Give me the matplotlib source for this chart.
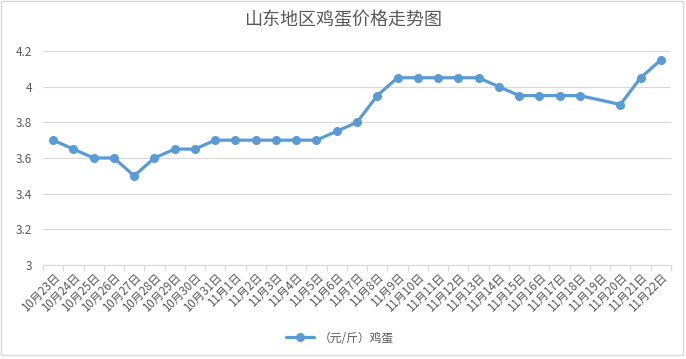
import numpy as np
import matplotlib.pyplot as plt
from matplotlib.patches import Rectangle

plt.rcParams['font.family'] = ['Noto Sans CJK SC', 'DejaVu Sans']

# dates on the x axis (11月19日 has no value)
dates = [f"10月{d}日" for d in range(23, 32)] + [f"11月{d}日" for d in range(1, 23)]
prices = [3.7, 3.65, 3.6, 3.6, 3.5, 3.6, 3.65, 3.65, 3.7,
          3.7, 3.7, 3.7, 3.7, 3.7, 3.75, 3.8, 3.95, 4.05, 4.05, 4.05,
          4.05, 4.05, 4.0, 3.95, 3.95, 3.95, 3.95, np.nan, 3.9, 4.05, 4.15]
series_name = "（元/斤）鸡蛋"
title = "山东地区鸡蛋价格走势图"

text_color = "#595959"
line_color = "#5B9BD5"
grid_color = "#D9D9D9"

fig = plt.figure(figsize=(6.86, 3.59), dpi=100)
ax = fig.add_axes([43 / 686, 1 - 265 / 359, 628 / 686, 214 / 359])

x = np.arange(len(dates))
y = np.array(prices)
ok = ~np.isnan(y)
ax.plot(x[ok], y[ok], color=line_color, lw=2.3, marker='o', ms=5.5,
        label=series_name, solid_capstyle='round')

ax.set_xlim(-0.5, len(dates) - 0.5)
ax.set_ylim(3, 4.2)
ax.set_yticks([3, 3.2, 3.4, 3.6, 3.8, 4, 4.2])
ax.set_yticklabels(["3", "3.2", "3.4", "3.6", "3.8", "4", "4.2"])
ax.yaxis.grid(True, color=grid_color, lw=0.8)
ax.set_axisbelow(True)

ax.set_xticks(np.arange(len(dates) + 1) - 0.5, minor=True)
ax.set_xticks(x)
ax.set_xticklabels(dates, rotation=45, ha='right', rotation_mode='anchor')
ax.tick_params(axis='x', which='major', length=0, pad=4, labelsize=8.3, colors=text_color)
ax.tick_params(axis='x', which='minor', length=4, color=grid_color, width=0.8)
ax.tick_params(axis='y', length=0, pad=8, labelsize=8.5, colors=text_color)

for s in ['top', 'right', 'left']:
    ax.spines[s].set_visible(False)
ax.spines['bottom'].set_color(grid_color)
ax.spines['bottom'].set_linewidth(0.8)

fig.text(0.5, 1 - 20 / 359, title, ha='center', va='center', fontsize=13, color=text_color)

leg = fig.legend(loc='center', bbox_to_anchor=(340 / 686, 1 - 338 / 359), frameon=False,
                 fontsize=8.5, handlelength=2.4, handletextpad=0.4)
for t in leg.get_texts():
    t.set_color(text_color)

# chart border
fig.patches.append(Rectangle((1 / 686, 4 / 359), 682 / 686, 354 / 359, transform=fig.transFigure,
                             fill=False, edgecolor=grid_color, lw=1))

fig.savefig("out.png", dpi=100)
